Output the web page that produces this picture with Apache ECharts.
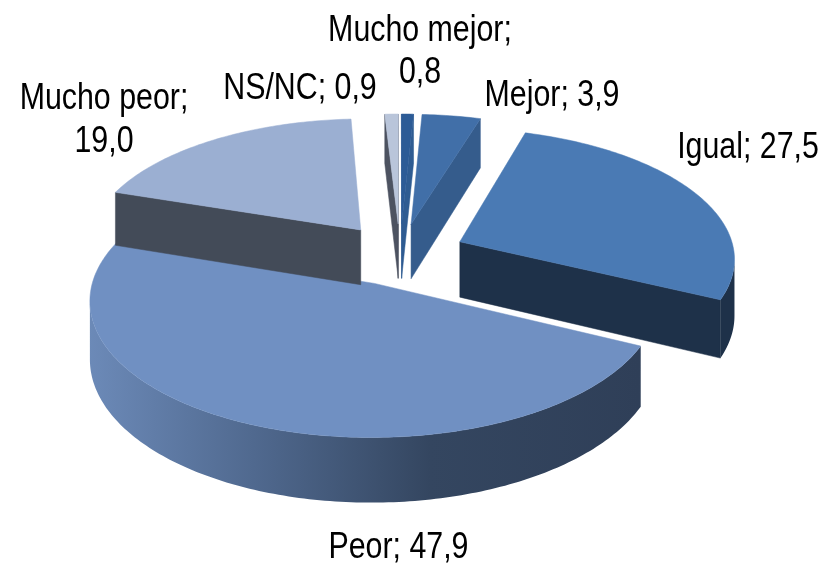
<!DOCTYPE html>
<html>
<head>
<meta charset="utf-8">
<script src="https://cdn.jsdelivr.net/npm/echarts@6/dist/echarts.min.js"></script>
<style>
  html, body { margin: 0; padding: 0; background: #fff; }
  #main { width: 823px; height: 566px; }
</style>
</head>
<body>
<div id="main"></div>
<script>
const categories = ['Mucho mejor', 'Mejor', 'Igual', 'Peor', 'Mucho peor', 'NS/NC'];
const values = [0.8, 3.9, 27.5, 47.9, 19.0, 0.9];

// look of each slice, same order as categories
const topColors = ['#2c5b96', '#416fa8', '#4a7ab4', '#7090c2', '#9bafd2', '#b9c5da'];
const wallColors = ['#2f5c92', '#355c8c', '#1e3149', '#2f3f58', '#434b58', '#4d5361'];
// label centres, one entry per text line
const labelPos = [
  [[420, 31], [420, 73]],
  [[552, 96]],
  [[748, 148]],
  [[398.5, 548]],
  [[104, 99], [104, 142]],
  [[300, 89]]
];

// fake 3d pie: unit circle on a plane, projected with a little perspective
const cx = 400, cy = 254, radiusX = 275, radiusY = 129, depth = 56, persp = 0.115, explode = 0.24;
const total = values.reduce((a, b) => a + b, 0);

const project = (x, z, down) => {
  const s = 1 / (1 + persp * z);
  return [cx + radiusX * x * s, cy - radiusY * z * s + (down ? depth * s : 0)];
};
const area = pts => {
  let a = 0;
  pts.forEach((p, i) => {
    const q = pts[(i + 1) % pts.length];
    a += p[0] * q[1] - q[0] * p[1];
  });
  return a;
};

const renderSlice = (params, api) => {
  const i = params.dataIndex;
  const before = values.slice(0, i).reduce((a, b) => a + b, 0);
  const a0 = before / total * Math.PI * 2;
  const a1 = (before + api.value(0)) / total * Math.PI * 2;
  const mid = (a0 + a1) / 2;
  const ox = explode * Math.sin(mid), oz = explode * Math.cos(mid);
  const steps = Math.max(4, Math.ceil((a1 - a0) * 60));
  const rim = [];
  for (let k = 0; k <= steps; k++) {
    const a = a0 + (a1 - a0) * k / steps;
    rim.push([ox + Math.sin(a), oz + Math.cos(a)]);
  }
  const up = p => project(p[0], p[1], false);
  const dn = p => project(p[0], p[1], true);
  const apex = [ox, oz];
  const children = [];
  const wallStyle = { fill: wallColors[i] };
  if (categories[i] === 'Peor') {
    wallStyle.fill = new echarts.graphic.LinearGradient(88, 0, 640, 0, [
      { offset: 0, color: '#6c8ab8' },
      { offset: 0.3, color: '#50698f' },
      { offset: 0.62, color: '#344660' },
      { offset: 1, color: '#2f3f58' }
    ], true);
  }
  const poly = (points, style) => children.push({ type: 'polygon', shape: { points }, style });

  // cut faces, only the ones turned to the viewer
  [[apex, rim[0]], [rim[steps], apex]].forEach(e => {
    const q = [up(e[0]), up(e[1]), dn(e[1]), dn(e[0])];
    if (area(q) < 0) poly(q, { fill: wallColors[i], stroke: wallColors[i], lineWidth: 0.5 });
  });
  // outer wall
  const seen = [];
  for (let k = 0; k < steps; k++) {
    const q = [up(rim[k]), up(rim[k + 1]), dn(rim[k + 1]), dn(rim[k])];
    if (area(q) < 0) seen.push(k);
  }
  if (seen.length) {
    const from = seen[0], to = seen[seen.length - 1] + 1;
    const pts = [];
    for (let k = from; k <= to; k++) pts.push(up(rim[k]));
    for (let k = to; k >= from; k--) pts.push(dn(rim[k]));
    poly(pts, wallStyle);
  }
  // top
  poly([up(apex)].concat(rim.map(up)), { fill: topColors[i], stroke: topColors[i], lineWidth: 0.5 });

  return { type: 'group', z2: Math.round((1 - Math.cos(mid)) * 100), children };
};

const renderLabel = (params, api) => {
  const i = params.dataIndex;
  const value = api.value(0).toFixed(1).replace('.', ',');
  const pos = labelPos[i];
  const lines = pos.length > 1 ? [categories[i] + ';', value] : [categories[i] + '; ' + value];
  return {
    type: 'group',
    children: lines.map((line, k) => ({
      type: 'text',
      x: pos[k][0], y: pos[k][1], scaleX: 0.82,
      style: {
        text: line,
        fill: '#000',
        font: '37px "Liberation Sans", sans-serif',
        textAlign: 'center', textVerticalAlign: 'middle'
      }
    }))
  };
};

const myChart = echarts.init(document.getElementById('main'));
myChart.setOption({
  animation: false,
  series: [
    { type: 'custom', coordinateSystem: 'none', renderItem: renderSlice, data: values.map(v => [v]) },
    { type: 'custom', coordinateSystem: 'none', renderItem: renderLabel, data: values.map(v => [v]), z: 5 }
  ]
});
</script>
</body>
</html>
